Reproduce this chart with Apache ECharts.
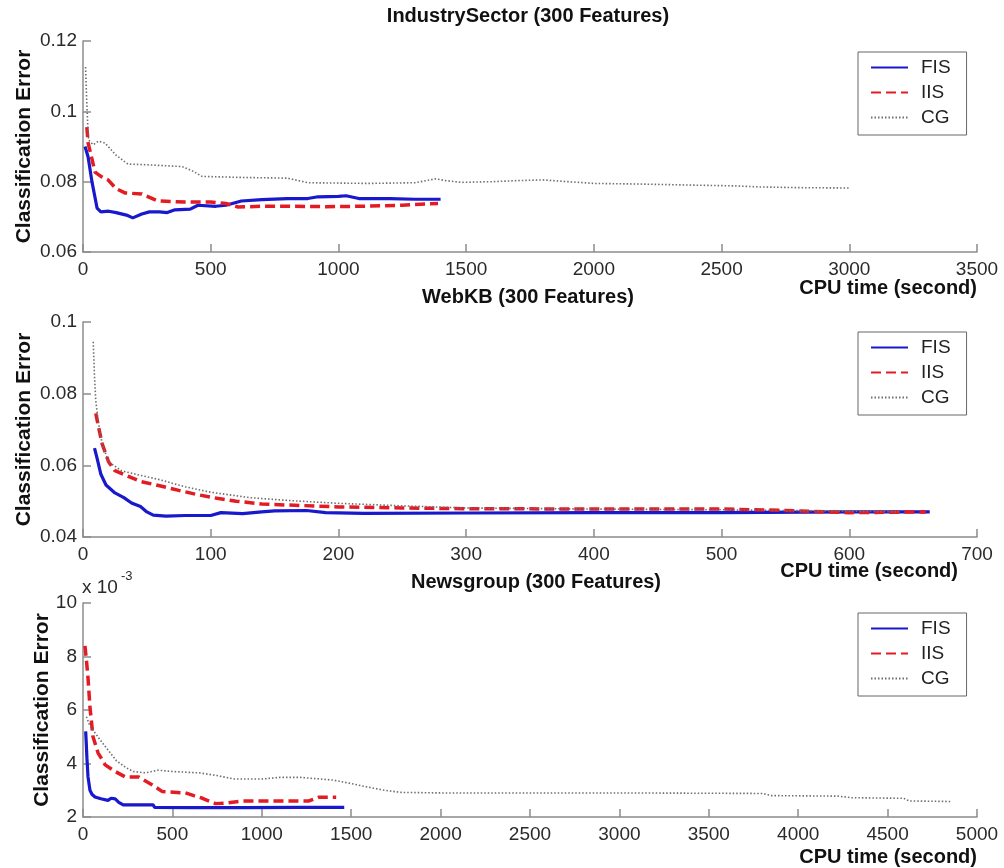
<!DOCTYPE html>
<html>
<head>
<meta charset="utf-8">
<script src="https://cdn.jsdelivr.net/npm/echarts@6/dist/echarts.min.js"></script>
<style>
  html, body { margin: 0; padding: 0; background: #fff; }
  #chart { width: 1004px; height: 868px; }
</style>
</head>
<body>
<div id="chart"></div>
<script>
  // IndustrySector (300 Features): [cpu time, classification error]
  var industryFIS = [[8,0.090],[20,0.087],[35,0.080],[55,0.0725],[70,0.0714],[100,0.0716],[130,0.0712],[170,0.0705],[195,0.0697],[230,0.0708],[260,0.0714],[300,0.0714],[330,0.0712],[360,0.0720],[420,0.0722],[450,0.0733],[520,0.0730],[560,0.0733],[620,0.0745],[700,0.0749],[800,0.0752],[880,0.0752],[920,0.0757],[1000,0.0758],[1030,0.0760],[1080,0.0752],[1200,0.0752],[1300,0.0750],[1400,0.0750]]
  var industryIIS = [[15,0.0955],[20,0.091],[30,0.088],[47,0.0827],[70,0.0815],[98,0.0805],[130,0.0780],[164,0.0768],[230,0.0765],[294,0.0745],[400,0.0742],[500,0.0742],[560,0.0738],[607,0.0728],[700,0.0730],[800,0.0730],[950,0.0729],[1100,0.0730],[1250,0.0733],[1390,0.0738]]
  var industryCG = [[10,0.1126],[14,0.104],[18,0.097],[22,0.0918],[40,0.0905],[60,0.0915],[86,0.0910],[130,0.0875],[176,0.0850],[250,0.0848],[388,0.0843],[430,0.0830],[466,0.0815],[622,0.0812],[800,0.0810],[881,0.0797],[1116,0.0795],[1300,0.0797],[1380,0.0808],[1420,0.0803],[1480,0.0798],[1600,0.0800],[1700,0.0803],[1800,0.0805],[1900,0.0800],[2000,0.0795],[2200,0.0793],[2400,0.0790],[2550,0.0788],[2650,0.0785],[2800,0.0783],[3000,0.0782]]

  // WebKB (300 Features)
  var webkbFIS = [[9,0.0648],[11,0.062],[14,0.0575],[18,0.0545],[25,0.0523],[32,0.0510],[38,0.0495],[45,0.0485],[50,0.0470],[55,0.0461],[65,0.0458],[80,0.0460],[100,0.0460],[108,0.0468],[125,0.0465],[140,0.0470],[150,0.0473],[175,0.0474],[190,0.0468],[220,0.0466],[300,0.0467],[400,0.0468],[500,0.0468],[600,0.0470],[663,0.0470]]
  var webkbIIS = [[10,0.0745],[12,0.071],[15,0.066],[20,0.061],[25,0.0585],[35,0.0570],[45,0.0555],[60,0.0543],[75,0.0530],[90,0.0518],[105,0.0508],[120,0.0500],[140,0.0492],[170,0.0488],[200,0.0484],[250,0.0481],[300,0.0479],[400,0.0478],[500,0.0478],[550,0.0474],[600,0.0468],[660,0.0470]]
  var webkbCG = [[8,0.0945],[9,0.085],[10,0.078],[12,0.072],[15,0.066],[20,0.061],[30,0.0585],[45,0.0572],[60,0.0560],[80,0.0540],[100,0.0525],[130,0.0510],[160,0.0502],[200,0.0494],[250,0.0487],[300,0.0481],[400,0.0478],[500,0.0476],[600,0.0472],[640,0.0470]]

  // Newsgroup (300 Features), error in units of 1e-3
  var newsFIS = [[15,5.2],[18,4.8],[22,4.2],[28,3.5],[39,3.0],[50,2.85],[67,2.75],[100,2.68],[140,2.62],[157,2.7],[180,2.68],[200,2.55],[225,2.45],[300,2.45],[393,2.45],[400,2.36],[600,2.35],[900,2.35],[1200,2.36],[1461,2.36]]
  var newsIIS = [[11,8.4],[20,7.8],[28,7.2],[39,6.1],[56,5.0],[84,4.4],[124,3.95],[180,3.7],[236,3.5],[309,3.5],[388,3.2],[444,2.95],[573,2.9],[620,2.8],[668,2.7],[741,2.5],[800,2.52],[893,2.6],[1100,2.6],[1264,2.6],[1320,2.74],[1416,2.74]]
  var newsCG = [[19,5.75],[39,5.4],[94,4.9],[140,4.5],[187,4.1],[240,3.85],[281,3.7],[350,3.65],[420,3.75],[500,3.7],[650,3.65],[749,3.55],[843,3.42],[1000,3.42],[1100,3.48],[1217,3.48],[1400,3.38],[1500,3.25],[1592,3.12],[1685,3.0],[1779,2.92],[2000,2.9],[3000,2.9],[3800,2.88],[3850,2.8],[4220,2.78],[4300,2.72],[4590,2.7],[4620,2.6],[4850,2.58]]

  var panelTitles = ['IndustrySector (300 Features)', 'WebKB (300 Features)', 'Newsgroup (300 Features)']
  var xRanges = [[0, 3500, 500], [0, 700, 100], [0, 5000, 500]]
  var yRanges = [[0.06, 0.12, 0.02], [0.04, 0.1, 0.02], [2, 10, 2]]

  var font = 'Liberation Sans, Arial, sans-serif'
  var gridTops = [41, 322, 603]
  var gridHeights = [211, 215, 214]
  var legendTops = [52, 332, 613]
  var nameGaps = [48, 48, 30]

  var chart = echarts.init(document.getElementById('chart'))

  var grids = [], xAxes = [], yAxes = [], legends = [], series = []
  var panelData = [
    [industryFIS, industryIIS, industryCG],
    [webkbFIS, webkbIIS, webkbCG],
    [newsFIS, newsIIS, newsCG]
  ]

  for (var i = 0; i < 3; i++) {
    grids.push({ left: 83, right: 27, top: gridTops[i], height: gridHeights[i] })
    xAxes.push({
      type: 'value', gridIndex: i,
      min: xRanges[i][0], max: xRanges[i][1], interval: xRanges[i][2],
      axisLine: { lineStyle: { color: '#8c8c8c', width: 1.5 } },
      axisTick: { inside: true, length: 8, lineStyle: { color: '#8c8c8c', width: 1.5 } },
      axisLabel: {
        color: '#2a2a2a', fontSize: 19, fontFamily: font, margin: 8,
        formatter: function (v) { return String(v) }
      },
      splitLine: { show: false }
    })
    yAxes.push({
      type: 'value', gridIndex: i,
      min: yRanges[i][0], max: yRanges[i][1], interval: yRanges[i][2],
      name: 'Classification Error',
      nameLocation: 'middle', nameRotate: 90, nameGap: nameGaps[i],
      nameMoveOverlap: false,
      nameTextStyle: { color: '#111', fontSize: 21, fontWeight: 'bold', fontFamily: font },
      axisLine: { show: true, lineStyle: { color: '#8c8c8c', width: 1.5 } },
      axisTick: { show: true, inside: true, length: 8, lineStyle: { color: '#8c8c8c', width: 1.5 } },
      axisLabel: { color: '#2a2a2a', fontSize: 19, fontFamily: font, margin: 6 },
      splitLine: { show: false }
    })
    legends.push({
      orient: 'vertical', left: 858, top: legendTops[i],
      data: ['FIS', 'IIS', 'CG'],
      itemWidth: 37, itemHeight: 19, itemGap: 6,
      padding: [6, 16, 8, 12],
      itemStyle: { opacity: 0 },
      borderColor: '#666', borderWidth: 1, backgroundColor: '#fff',
      textStyle: { color: '#222', fontSize: 19, fontFamily: font, lineHeight: 19, padding: [0, 0, 0, 8] }
    })
    var d = panelData[i]
    series.push({
      name: 'FIS', type: 'line', xAxisIndex: i, yAxisIndex: i, data: d[0],
      showSymbol: false, symbol: 'none',
      lineStyle: { color: '#1818cc', width: 3.2 }, itemStyle: { color: '#1818cc' }
    })
    series.push({
      name: 'IIS', type: 'line', xAxisIndex: i, yAxisIndex: i, data: d[1],
      showSymbol: false, symbol: 'none',
      lineStyle: { color: '#e31b23', width: 3.5, type: [10, 5] }, itemStyle: { color: '#e31b23' }
    })
    series.push({
      name: 'CG', type: 'line', xAxisIndex: i, yAxisIndex: i, data: d[2],
      showSymbol: false, symbol: 'none',
      lineStyle: { color: '#6e6e6e', width: 1.6, type: [1.5, 2] }, itemStyle: { color: '#6e6e6e' }
    })
  }

  function label(text, x, y, align, size) {
    return {
      type: 'text', x: x, y: y, silent: true,
      style: {
        text: text, fill: '#111', align: align, verticalAlign: 'middle',
        font: 'bold ' + size + 'px ' + font
      }
    }
  }

  var graphics = [
    label(panelTitles[0], 528, 16, 'center', 20),
    label(panelTitles[1], 528, 297, 'center', 20),
    label(panelTitles[2], 536, 582, 'center', 20),
    label('CPU time (second)', 977, 288, 'right', 20),
    label('CPU time (second)', 958, 571, 'right', 20),
    label('CPU time (second)', 977, 857, 'right', 20),
    { type: 'text', x: 82, y: 588, silent: true,
      style: { text: 'x 10', fill: '#2a2a2a', verticalAlign: 'middle', font: '19px ' + font } },
    { type: 'text', x: 121, y: 576, silent: true,
      style: { text: '-3', fill: '#2a2a2a', verticalAlign: 'middle', font: '13px ' + font } }
  ]

  chart.setOption({
    animation: false,
    backgroundColor: '#fff',
    grid: grids,
    xAxis: xAxes,
    yAxis: yAxes,
    legend: legends,
    series: series,
    graphic: graphics
  })
</script>
</body>
</html>
